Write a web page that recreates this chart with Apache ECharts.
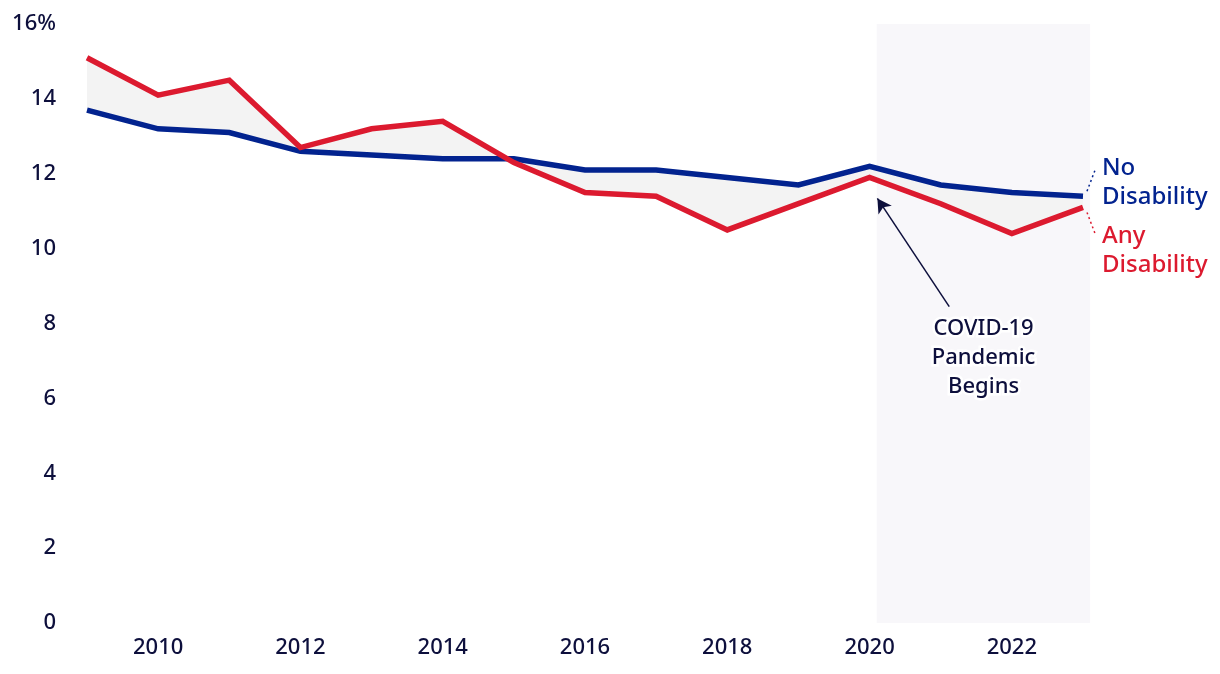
<!DOCTYPE html>
<html>
<head>
<meta charset="utf-8">
<script src="https://cdn.jsdelivr.net/npm/echarts@6/dist/echarts.min.js"></script>
<style>
html,body{margin:0;padding:0;background:#fff;}
#chart{width:1220px;height:674px;}
</style>
</head>
<body>
<div id="chart"></div>
<script>
const years = [2009,2010,2011,2012,2013,2014,2015,2016,2017,2018,2019,2020,2021,2022,2023];
const noDisability = [13.7,13.2,13.1,12.6,12.5,12.4,12.4,12.1,12.1,11.9,11.7,12.2,11.7,11.5,11.4];
const anyDisability = [15.1,14.1,14.5,12.7,13.2,13.4,12.3,11.5,11.4,10.5,11.2,11.9,11.2,10.4,11.1];
const xTickLabels = [2010,2012,2014,2016,2018,2020,2022];
const yTicks = [0,2,4,6,8,10,12,14,16];
const pandemicRange = [2020.1, 2023.1];
const pandemicArrow = {from:[2021.12, 8.45], to:[2020.11, 11.34]};
const pandemicText = 'COVID-19\nPandemic\nBegins';

const BLUE = '#02238f';
const RED = '#dc1a2f';
const INK = '#0d0f3c';
const FONT = 'Noto Sans';

const chart = echarts.init(document.getElementById('chart'), null, {renderer:'canvas'});

const blueData = years.map((y,i)=>[y, noDisability[i]]);
const redData = years.map((y,i)=>[y, anyDisability[i]]);

const option = {
  animation:false,
  backgroundColor:'#fff',
  grid:{left:87, right:137, top:24, bottom:51, containLabel:false},
  xAxis:{
    type:'value', min:2009, max:2023,
    axisLine:{show:false}, axisTick:{show:false}, splitLine:{show:false},
    axisLabel:{customValues:xTickLabels, color:INK, fontFamily:FONT, fontWeight:500, fontSize:22, margin:14,
      formatter:v=>String(v)}
  },
  yAxis:{
    type:'value', min:0, max:16, interval:2,
    axisLine:{show:false}, axisTick:{show:false}, splitLine:{show:false},
    axisLabel:{color:INK, fontFamily:FONT, fontWeight:500, fontSize:22, margin:31,
      formatter:v=> v===16 ? '16%' : String(v)}
  },
  series:[
    {
      type:'custom', name:'pandemic', silent:true, z:0, clip:false,
      data:[0],
      renderItem:function(params, api){
        const p0 = api.coord([pandemicRange[0], yTicks[yTicks.length-1]]);
        const p1 = api.coord([pandemicRange[1], yTicks[0]]);
        return {type:'rect', shape:{x:p0[0], y:p0[1], width:p1[0]-p0[0], height:p1[1]-p0[1]},
          style:{fill:'#f8f7fa'}};
      }
    },
    {
      type:'custom', name:'gap', silent:true, z:1,
      data:[0],
      renderItem:function(params, api){
        const pts = [];
        blueData.forEach(d=>pts.push(api.coord(d)));
        for(let i=redData.length-1;i>=0;i--) pts.push(api.coord(redData[i]));
        return {type:'polygon', shape:{points:pts}, style:{fill:'#f3f3f3', stroke:null}};
      }
    },
    {
      type:'line', name:'No Disability', data:blueData, showSymbol:false, z:3,
      lineStyle:{color:BLUE, width:5.5, join:'miter'}, itemStyle:{color:BLUE}
    },
    {
      type:'line', name:'Any Disability', data:redData, showSymbol:false, z:4,
      lineStyle:{color:RED, width:5.5, join:'miter'}, itemStyle:{color:RED},
      markLine:{
        silent:true, symbol:['none','arrow'], symbolSize:[12,14],
        label:{show:false},
        lineStyle:{color:INK, width:1.5, type:'solid'},
        data:[[{coord:pandemicArrow.from},{coord:pandemicArrow.to}]]
      }
    }
  ]
};
chart.setOption(option);

// Annotations positioned from data through the chart's scales
const lastB = chart.convertToPixel({gridIndex:0}, blueData[blueData.length-1]);
const lastR = chart.convertToPixel({gridIndex:0}, redData[redData.length-1]);
const textPos = chart.convertToPixel({gridIndex:0}, [pandemicArrow.from[0]+0.3, pandemicArrow.from[1]]);

chart.setOption({
  graphic:[
    {type:'line', shape:{x1:lastB[0]+4, y1:lastB[1]-5, x2:lastB[0]+12, y2:lastB[1]-26},
      style:{stroke:BLUE, lineWidth:1.5, lineDash:[2,3]}, z:10},
    {type:'line', shape:{x1:lastR[0]+4, y1:lastR[1]+5, x2:lastR[0]+12, y2:lastR[1]+26},
      style:{stroke:RED, lineWidth:1.5, lineDash:[2,3]}, z:10},
    {type:'text', x:lastB[0]+19, y:lastB[1]-43,
      style:{text:'No\nDisability', fill:BLUE, font:'500 24px "Noto Sans"', lineHeight:29, textVerticalAlign:'top'}, z:10},
    {type:'text', x:lastR[0]+19, y:lastR[1]+14,
      style:{text:'Any\nDisability', fill:RED, font:'500 24px "Noto Sans"', lineHeight:29, textVerticalAlign:'top'}, z:10},
    {type:'text', x:textPos[0]+13, y:textPos[1]+8,
      style:{text:pandemicText, fill:INK, font:'500 22px "Noto Sans"', lineHeight:29, align:'center', textAlign:'center', verticalAlign:'top', textVerticalAlign:'top',
        stroke:'#fff', lineWidth:5}, z:10}
  ]
});
</script>
</body>
</html>
